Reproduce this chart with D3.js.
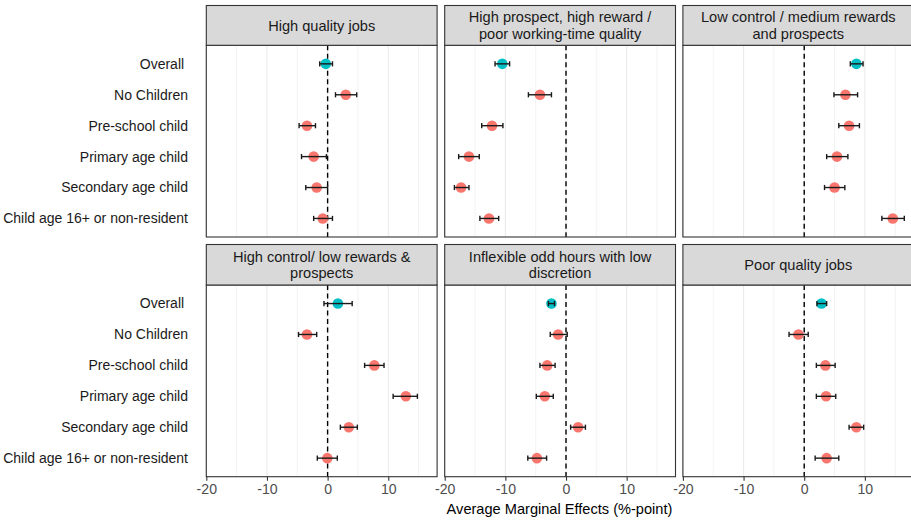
<!DOCTYPE html>
<html>
<head>
<meta charset="utf-8">
<script src="https://cdn.jsdelivr.net/npm/d3@7"></script>
<style>
  html, body { margin: 0; padding: 0; background: #fff; }
  svg { display: block; font-family: "Liberation Sans", Arial, Helvetica, sans-serif; }
</style>
</head>
<body>
<svg id="chart" width="911" height="521"></svg>
<script>
// Groups shown on each facet's y axis (top to bottom)
const categories = [
  "Overall ",
  "No Children",
  "Pre-school child",
  "Primary age child",
  "Secondary age child",
  "Child age 16+ or non-resident"
];

// Facet titles (job-quality classes), each possibly split across lines
const panels = [
  ["High quality jobs"],
  ["High prospect, high reward /", "poor working-time quality"],
  ["Low control / medium rewards", "and prospects"],
  ["High control/ low rewards &", "prospects"],
  ["Inflexible odd hours with low", "discretion"],
  ["Poor quality jobs"]
];

// Average marginal effects (%-point), one row per facet, in category order
const estimates = [
  [-0.3,   3.0,  -3.4,  -2.3,  -1.8,  -0.8],
  [-10.5, -4.3, -12.2, -16.0, -17.3, -12.7],
  [ 8.6,   6.8,   7.4,   5.4,   5.0,  14.6],
  [ 1.7,  -3.4,   7.7,  12.9,   3.5,  -0.05],
  [-2.4,  -1.3,  -3.1,  -3.5,   2.0,  -4.8],
  [ 2.85, -0.95,  3.5,   3.6,   8.6,   3.7]
];

// Lower confidence bounds
const lower = [
  [-1.3,   1.3,  -4.7,  -4.3,  -3.6,  -2.3],
  [-11.7, -6.2, -13.9, -17.7, -18.4, -14.2],
  [ 7.6,   4.9,   5.7,   3.7,   3.35, 12.8],
  [-0.6,  -4.8,   6.1,  10.8,   2.1,  -1.7],
  [-2.9,  -2.6,  -4.3,  -4.9,   0.76, -6.3],
  [ 2.1,  -2.5,   2.0,   2.0,   7.4,   1.8]
];

// Upper confidence bounds
const upper = [
  [ 0.8,   4.8,  -2.0,  -0.2,   0.0,   0.8],
  [-9.3,  -2.4, -10.4, -14.3, -16.0, -11.1],
  [ 9.7,   8.8,   9.1,   7.2,   6.7,  16.5],
  [ 4.05, -1.8,   9.3,  14.8,   4.9,   1.6],
  [-1.9,   0.2,  -1.8,  -2.1,   3.2,  -3.2],
  [ 3.7,   0.66,  5.1,   5.2,   9.8,   5.7]
];

const xTicks = [-20, -10, 0, 10];
const xTickLabels = ["-20", "-10", "0", "10"];
const xMinor = [-15, -5, 5, 15];
const xTitle = "Average Marginal Effects (%-point)";

// Layout of the 3 x 2 facet grid
const panelW = 230.8;
const colX = [206.3, 444.7, 682.9];
const rows = [
  { stripTop: 5.5,   plotTop: 45.3, plotBottom: 237.0 },
  { stripTop: 244.5, plotTop: 285.0, plotBottom: 476.7 }
];

const colOverall = "#00BFC4";
const colGroup = "#F8766D";
const frame = "#333333";

const svg = d3.select("#chart");
svg.append("rect").attr("width", 911).attr("height", 521).attr("fill", "#fff");

panels.forEach((title, i) => {
  const r = rows[Math.floor(i / 3)];
  const c = i % 3;
  const x0 = colX[c];

  const x = d3.scaleLinear().domain([-20, 18.05]).range([x0, x0 + panelW]);
  const y = d3.scalePoint().domain(categories).range([r.plotTop, r.plotBottom]).padding(0.6);

  const g = svg.append("g");

  // grid lines (vertical only)
  g.selectAll(".minor").data(xMinor).join("line")
    .attr("x1", d => x(d)).attr("x2", d => x(d))
    .attr("y1", r.plotTop).attr("y2", r.plotBottom)
    .attr("stroke", "#EBEBEB").attr("stroke-width", 0.6);
  g.selectAll(".major").data(xTicks).join("line")
    .attr("x1", d => x(d)).attr("x2", d => x(d))
    .attr("y1", r.plotTop).attr("y2", r.plotBottom)
    .attr("stroke", "#EBEBEB").attr("stroke-width", 1.1);

  // reference line at zero
  g.append("line")
    .attr("x1", x(0)).attr("x2", x(0))
    .attr("y1", r.plotTop).attr("y2", r.plotBottom)
    .attr("stroke", "#000").attr("stroke-width", 1.4)
    .attr("stroke-dasharray", "5,3.5");

  const rowsData = categories.map((cat, k) => ({
    cat, est: estimates[i][k], lo: lower[i][k], hi: upper[i][k], overall: k === 0
  }));

  // points
  g.selectAll(".pt").data(rowsData).join("circle")
    .attr("cx", d => x(d.est)).attr("cy", d => y(d.cat)).attr("r", 5.3)
    .attr("fill", d => d.overall ? colOverall : colGroup);

  // confidence intervals with end caps
  const eb = g.selectAll(".eb").data(rowsData).join("g").attr("stroke", "#1a1a1a").attr("stroke-width", 1.4);
  eb.append("line").attr("x1", d => x(d.lo)).attr("x2", d => x(d.hi))
    .attr("y1", d => y(d.cat)).attr("y2", d => y(d.cat));
  eb.append("line").attr("x1", d => x(d.lo)).attr("x2", d => x(d.lo))
    .attr("y1", d => y(d.cat) - 2.6).attr("y2", d => y(d.cat) + 2.6);
  eb.append("line").attr("x1", d => x(d.hi)).attr("x2", d => x(d.hi))
    .attr("y1", d => y(d.cat) - 2.6).attr("y2", d => y(d.cat) + 2.6);

  // panel border
  g.append("rect").attr("x", x0).attr("y", r.plotTop)
    .attr("width", panelW).attr("height", r.plotBottom - r.plotTop)
    .attr("fill", "none").attr("stroke", frame).attr("stroke-width", 1.1);

  // strip
  g.append("rect").attr("x", x0).attr("y", r.stripTop)
    .attr("width", panelW).attr("height", r.plotTop - r.stripTop)
    .attr("fill", "#D9D9D9").attr("stroke", frame).attr("stroke-width", 1.1);
  const stripMid = (r.stripTop + r.plotTop) / 2;
  const lineH = 16.2;
  const st = g.append("text")
    .attr("x", x0 + panelW / 2)
    .attr("text-anchor", "middle")
    .attr("font-size", 14.6)
    .attr("fill", "#1A1A1A");
  title.forEach((t, j) => {
    st.append("tspan")
      .attr("x", x0 + panelW / 2)
      .attr("y", stripMid + (j - (title.length - 1) / 2) * lineH)
      .attr("dy", "0.35em")
      .text(t);
  });

  // y axis labels on the first column
  if (c === 0) {
    g.selectAll(".ylab").data(categories).join("text")
      .attr("x", 188).attr("y", d => y(d)).attr("dy", "0.35em")
      .attr("text-anchor", "end").attr("font-size", 14.0)
      .attr("fill", "#1A1A1A")
      .style("white-space", "pre")
      .text(d => d);
  }

  // x axis on the bottom row
  if (i >= 3) {
    const ax = g.append("g").attr("transform", `translate(0,${r.plotBottom})`)
      .call(d3.axisBottom(x).tickValues(xTicks).tickSize(4).tickPadding(3)
        .tickFormat((d, k) => xTickLabels[k]));
    ax.select(".domain").remove();
    ax.selectAll(".tick line").attr("stroke", frame).attr("stroke-width", 1.1);
    ax.selectAll(".tick text")
      .attr("font-size", 14.1).attr("fill", "#4D4D4D")
      .attr("font-family", "'Liberation Sans', Arial, sans-serif");
  }
});

// x axis title
svg.append("text")
  .attr("x", 559.5).attr("y", 508.5).attr("dy", "0.35em")
  .attr("text-anchor", "middle")
  .attr("font-size", 14.6).attr("fill", "#000")
  .text(xTitle);
</script>
</body>
</html>
